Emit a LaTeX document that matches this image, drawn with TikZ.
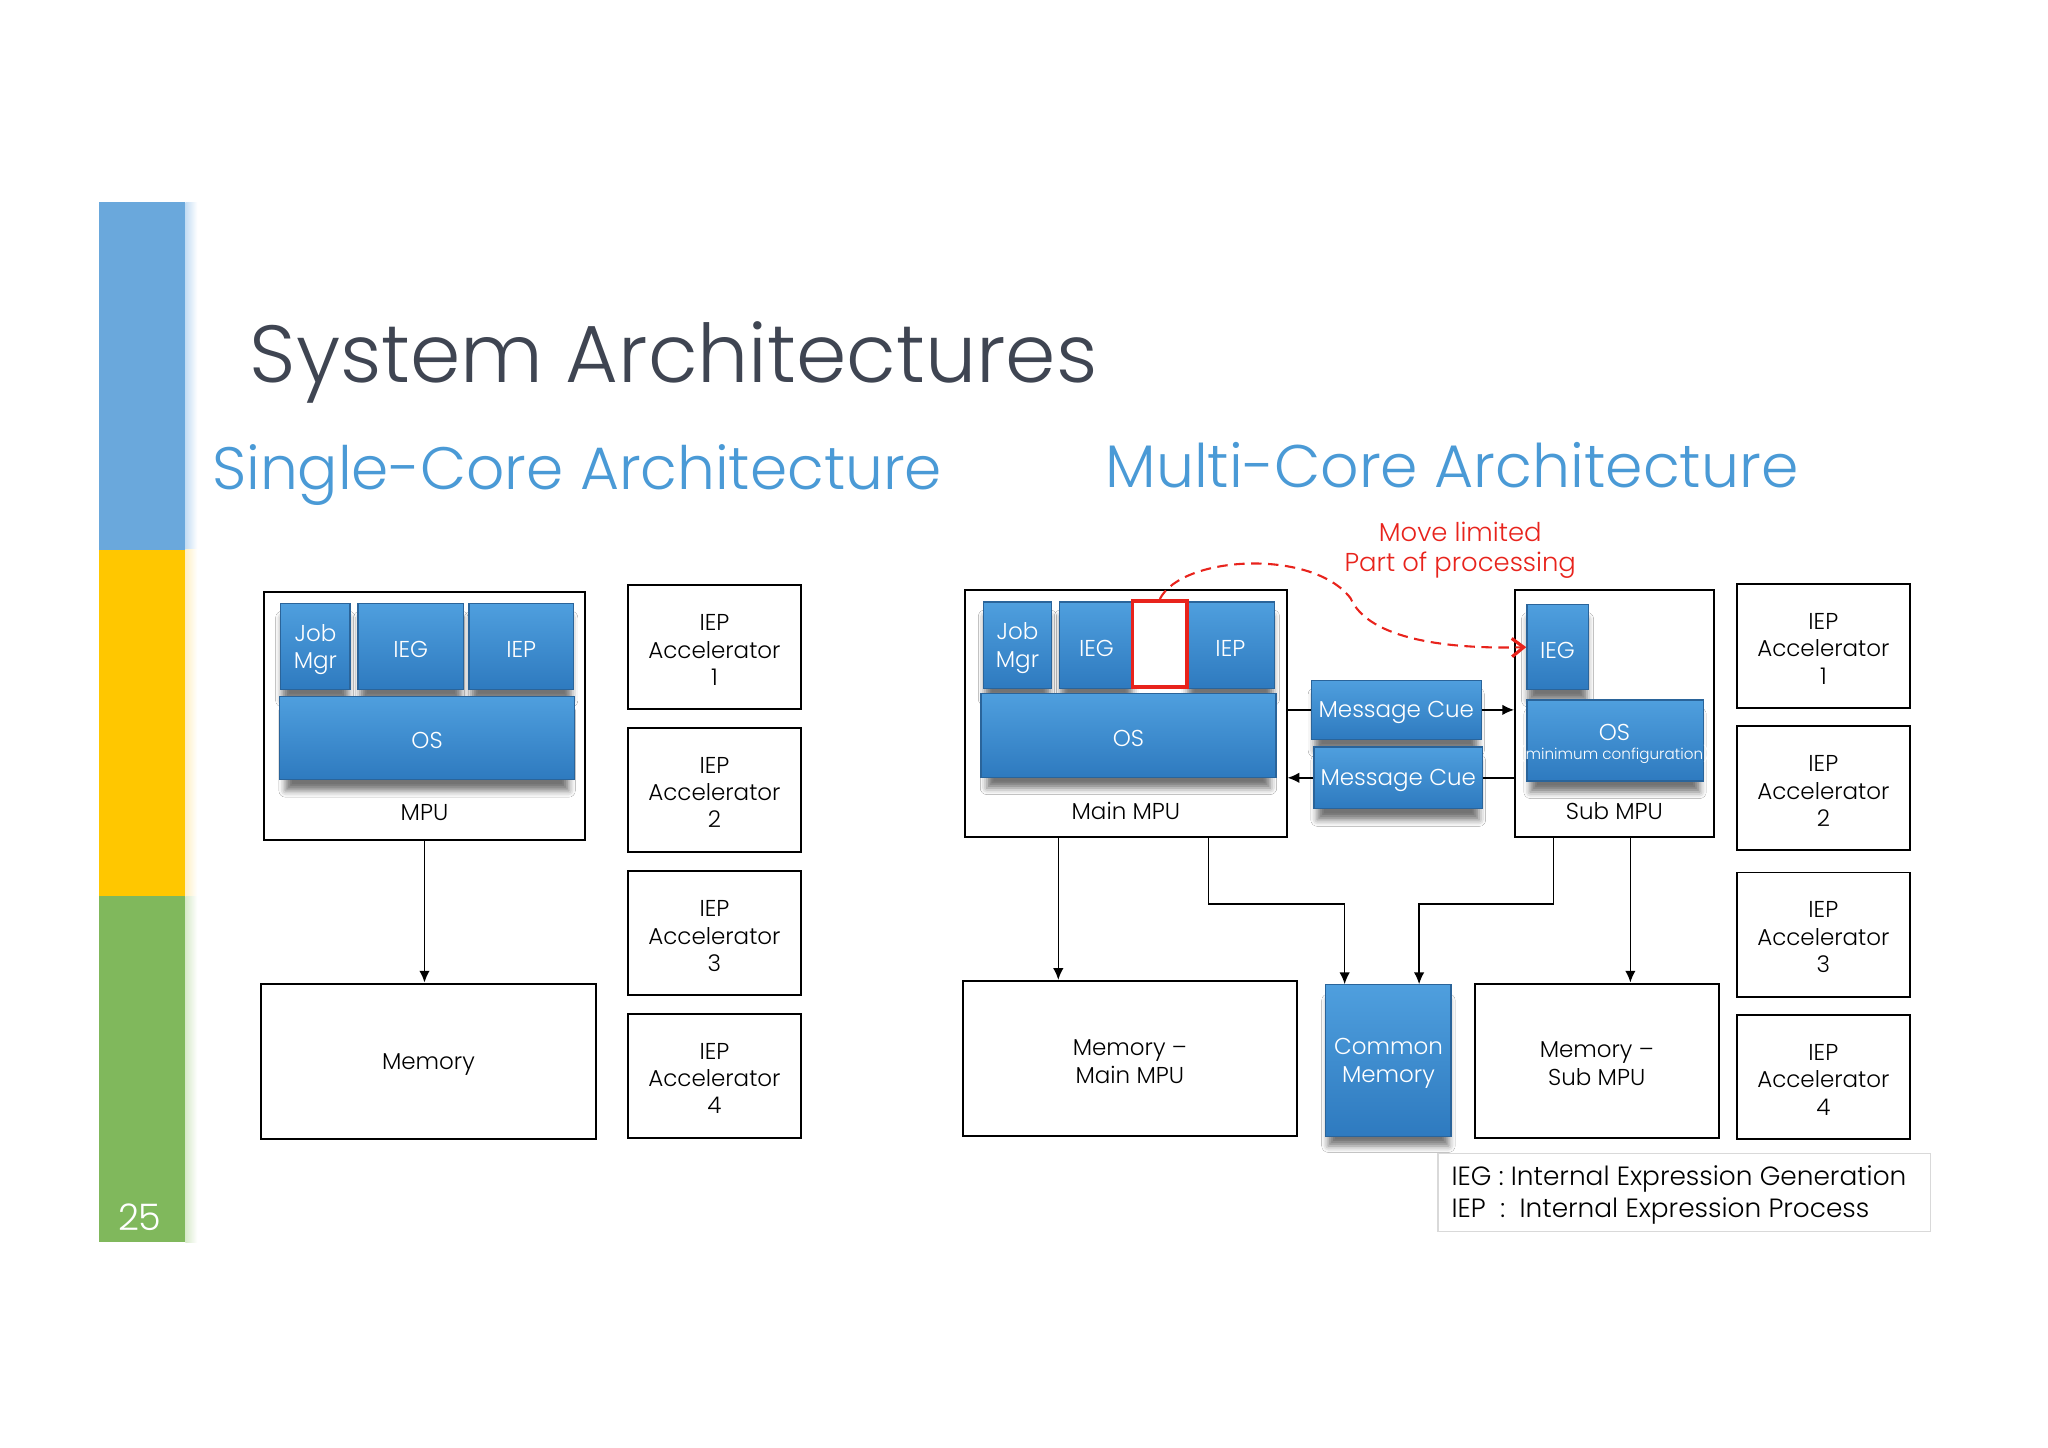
\documentclass[tikz,border=0pt]{standalone}
\usepackage{fontspec}
\setmainfont{Poppins Light}
\usetikzlibrary{arrows.meta,shadows.blur,calc}
\definecolor{barblue}{HTML}{6AA8DC}
\definecolor{barbluel}{HTML}{C4DDF3}
\definecolor{baryellow}{HTML}{FFC700}
\definecolor{baryellowl}{HTML}{FFF0C4}
\definecolor{bargreen}{HTML}{80B85C}
\definecolor{bargreenl}{HTML}{D8EACB}
\definecolor{titlegray}{HTML}{3F4552}
\definecolor{subblue}{HTML}{4A9AD6}
\definecolor{btop}{HTML}{4F9FDE}
\definecolor{bbot}{HTML}{2E7ABF}
\definecolor{bedge}{HTML}{2A649A}
\definecolor{redc}{HTML}{E8231C}
% style, name, x1, y1, x2, y2, text
\newcommand{\boxat}[7]{%
  \pgfmathsetmacro\bxw{(#5-#3)*0.5}\pgfmathsetmacro\bxh{(#6-#4)*0.5}%
  \node[#1, minimum width=\bxw pt, minimum height=\bxh pt] (#2) at ({(#3+#5)/2},{(#4+#6)/2}) {};
  \node[#1-txt] (#2-t) at ([yshift=-1.1pt]#2.center) {#7};}
\tikzset{
  plain/.style={draw=black, line width=0.75pt, fill=white, inner sep=0pt},
  plain-txt/.style={inner sep=0pt, align=center, font=\fontsize{8.8}{10.5}\selectfont},
  bluebox/.style={draw=bedge, line width=0.5pt, top color=btop, bottom color=bbot, inner sep=0pt, blur shadow={shadow xshift=0pt, shadow yshift=-5pt, shadow blur radius=2.6pt, shadow scale=0.96, shadow opacity=55}},
  bluebox-txt/.style={inner sep=0pt, align=center, text=white, font=\fontsize{8.8}{10.5}\selectfont},
  redbox/.style={draw=redc, line width=1.4pt, fill=white, inner sep=0pt},
  redbox-txt/.style={inner sep=0pt},
  legendbox/.style={draw=black!15, line width=0.5pt, fill=white, inner sep=0pt},
  legendbox-txt/.style={inner sep=0pt},
  lbl/.style={inner sep=0pt, font=\fontsize{8.8}{10.5}\selectfont},
  arr/.style={draw=black, line width=0.6pt, -{Latex[length=4.5pt,width=4pt]}},
  ln/.style={draw=black, line width=0.6pt},
}
\begin{document}
\begin{tikzpicture}[x=0.5pt,y=-0.5pt]
\useasboundingbox (0,0) rectangle (1568,1108);
\fill[white] (0,0) rectangle (1568,1108);
% side bar
\fill[barblue] (76,155) rectangle (142,421);
\fill[baryellow] (76,421) rectangle (142,686);
\fill[bargreen] (76,686) rectangle (142,951);
\shade[left color=barbluel, right color=white] (142,155) rectangle (151,421);
\shade[left color=baryellowl, right color=white] (142,421) rectangle (151,686);
\shade[left color=bargreenl, right color=white] (142,686) rectangle (151,951);
\node[text=white, font=\fontsize{14}{14}\selectfont] (pg) at (107,932) {25};
% titles
\node[anchor=base west, inner sep=0pt, text=titlegray, font=\fontsize{31}{31}\selectfont] (title) at (191,293) {System Architectures};
\node[anchor=base west, inner sep=0pt, text=subblue, font=\fontsize{22.9}{22.9}\selectfont] (single) at (162,375) {Single-Core Architecture};
\node[anchor=base west, inner sep=0pt, text=subblue, font=\fontsize{23}{23}\selectfont] (multi) at (846,373) {Multi-Core Architecture};

% ---------- single core ----------
\boxat{plain}{mpu}{202}{453}{448}{643}{}
\node[lbl] (mpulbl) at (325,622) {MPU};
\boxat{bluebox}{sjob}{215}{462}{268}{528}{Job\\Mgr}
\boxat{bluebox}{sieg}{274}{462}{355}{528}{IEG}
\boxat{bluebox}{siep}{359}{462}{439}{528}{IEP}
\boxat{bluebox}{sos}{214}{533}{440}{597}{OS}
\boxat{plain}{smem}{200}{753}{456}{872}{Memory}
\draw[arr] (mpu.south) -- (mpu.south |- smem.north);
\boxat{plain}{sa1}{481}{448}{613}{543}{IEP\\Accelerator\\1}
\boxat{plain}{sa2}{481}{557}{613}{652}{IEP\\Accelerator\\2}
\boxat{plain}{sa3}{481}{667}{613}{762}{IEP\\Accelerator\\3}
\boxat{plain}{sa4}{481}{776}{613}{871}{IEP\\Accelerator\\4}

% ---------- multi core ----------
\boxat{plain}{mmpu}{739}{452}{985}{641}{}
\node[lbl] (mmpulbl) at (862,621) {Main MPU};
\boxat{bluebox}{mjob}{753}{461}{805}{527}{Job\\Mgr}
\boxat{bluebox}{mieg}{811}{461}{868}{527}{IEG}
\boxat{bluebox}{miep}{908}{461}{976}{527}{IEP}
\boxat{redbox}{rbox}{867}{460}{909}{526}{}
\boxat{bluebox}{mos}{751}{531}{977}{595}{OS}

\boxat{plain}{smpu}{1160}{452}{1312}{641}{}
\node[lbl] (smpulbl) at (1236,621) {Sub MPU};
\boxat{bluebox}{subieg}{1169}{463}{1216}{528}{IEG}
\boxat{bluebox}{subos}{1169}{536}{1304}{598}{}
\node[text=white, inner sep=0pt, font=\fontsize{8.8}{10}\selectfont] (subostxt) at (1236,561) {OS};
\node[text=white, inner sep=0pt, font=\fontsize{5.8}{6}\selectfont] (subosmin) at (1236,578) {(minimum configuration)};

\boxat{bluebox}{mc1}{1004}{521}{1134}{566}{Message Cue}
\boxat{bluebox}{mc2}{1006}{572}{1135}{619}{Message Cue}
\draw[ln] (mc1.west -| mmpu.east) -- (mc1.west);
\draw[arr] (mc1.east) -- (mc1.east -| smpu.west);
\draw[ln] (mc2.east -| smpu.west) -- (mc2.east);
\draw[arr] (mc2.west) -- (mc2.west -| mmpu.east);

\boxat{plain}{mmem}{737}{751}{993}{870}{Memory –\\Main MPU}
\boxat{bluebox}{cmem}{1015}{754}{1111}{870}{Common\\Memory}
\boxat{plain}{smem2}{1129}{753}{1316}{871}{Memory –\\Sub MPU}
\coordinate (bus) at (0,692);
\draw[arr] ([xshift=36pt]mmpu.south west) -- ([xshift=36pt]mmpu.south west |- mmem.north);
\draw[arr] ([xshift=93.5pt]mmpu.south west) -- ([xshift=93.5pt]mmpu.south west |- bus) -| ([xshift=7.5pt]cmem.north west);
\draw[arr] ([xshift=15pt]smpu.south west) -- ([xshift=15pt]smpu.south west |- bus) -| ([xshift=36pt]cmem.north west);
\draw[arr] ([xshift=44.5pt]smpu.south west) -- ([xshift=44.5pt]smpu.south west |- smem2.north);

\boxat{plain}{ma1}{1330}{447}{1462}{542}{IEP\\Accelerator\\1}
\boxat{plain}{ma2}{1330}{556}{1462}{651}{IEP\\Accelerator\\2}
\boxat{plain}{ma3}{1330}{668}{1462}{763}{IEP\\Accelerator\\3}
\boxat{plain}{ma4}{1330}{777}{1462}{872}{IEP\\Accelerator\\4}

% move annotation
\node[text=redc, align=center, inner sep=0pt, font=\fontsize{9.9}{11.5}\selectfont] (move) at (1118,421) {Move limited\\Part of processing};
\draw[redc, line width=0.8pt, dash pattern=on 4pt off 2.5pt, -{Straight Barb[length=4.5pt,width=7pt,line width=1.2pt]}]
  (rbox.north) .. controls (905,425) and (1005,420) .. (1034,458)
  .. controls (1048,490) and (1110,497) .. (subieg.west);

% legend
\boxat{legendbox}{legend}{1101}{883}{1478}{943}{}
\node[anchor=base west, inner sep=0pt, font=\fontsize{10.1}{10.1}\selectfont] (leg1) at (1111,908) {IEG : Internal Expression Generation};
\node[anchor=base west, inner sep=0pt, font=\fontsize{10.1}{10.1}\selectfont] (leg2) at (1111,932) {IEP\ \ :\ \ Internal Expression Process};
\end{tikzpicture}
\end{document}
